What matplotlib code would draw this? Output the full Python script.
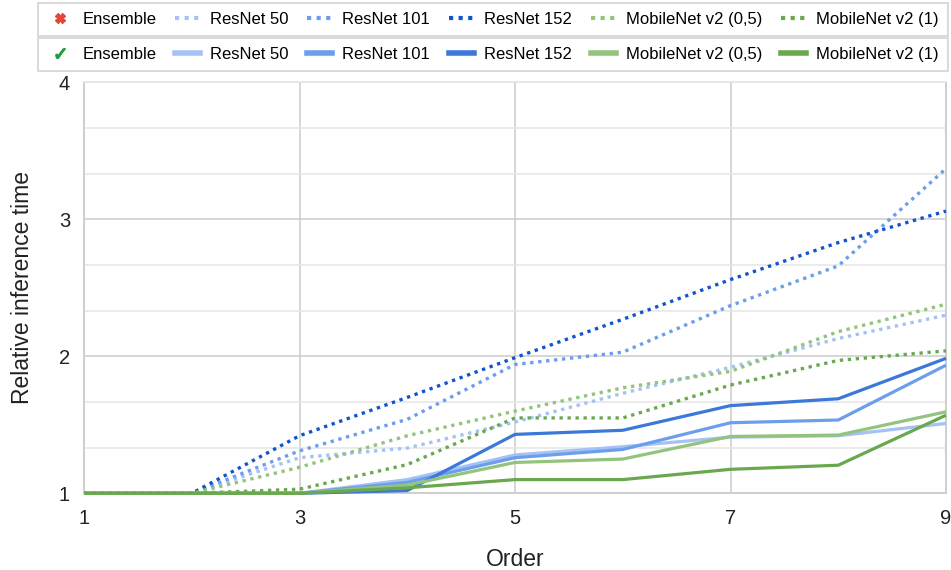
import matplotlib
matplotlib.use('Agg')
from matplotlib import pyplot as plt
from matplotlib.lines import Line2D
from matplotlib.ticker import MultipleLocator

plt.rcParams['font.family'] = ['Liberation Sans', 'DejaVu Sans']

orders = [1, 2, 3, 4, 5, 6, 7, 8, 9]
names = ['ResNet 50', 'ResNet 101', 'ResNet 152', 'MobileNet v2 (0,5)', 'MobileNet v2 (1)']

# пунктир: первая строка легенды (крестик)
dotted_vals = [
    [1, 1, 1.26, 1.33, 1.52, 1.73, 1.92, 2.13, 2.30],
    [1, 1, 1.31, 1.54, 1.94, 2.03, 2.37, 2.66, 3.37],
    [1, 1, 1.42, 1.70, 1.99, 2.27, 2.56, 2.83, 3.06],
    [1, 1, 1.19, 1.42, 1.60, 1.77, 1.89, 2.18, 2.38],
    [1, 1, 1.03, 1.21, 1.55, 1.55, 1.79, 1.97, 2.04],
]
# сплошные: вторая строка легенды (галочка)
solid_vals = [
    [1, 1, 1, 1.10, 1.28, 1.34, 1.41, 1.42, 1.51],
    [1, 1, 1, 1.08, 1.26, 1.32, 1.515, 1.535, 1.935],
    [1, 1, 1, 1.02, 1.43, 1.46, 1.64, 1.69, 1.985],
    [1, 1, 1, 1.06, 1.225, 1.25, 1.415, 1.425, 1.595],
    [1, 1, 1, 1.04, 1.10, 1.10, 1.175, 1.205, 1.57],
]
x_ticks = [1, 3, 5, 7, 9]
dotted_colors = ['#a4c2f4', '#6d9eeb', '#1155cc', '#93c47d', '#6aa84f']
solid_colors = ['#a4c2f4', '#6d9eeb', '#3c78d8', '#93c47d', '#6aa84f']

fig = plt.figure(figsize=(9.51, 5.70), dpi=100)
ax = fig.add_axes([84 / 951, 1 - 493.3 / 570, 862 / 951, 411 / 570])

dot_style = (0, (1, 1.4))
for vals, c in zip(dotted_vals, dotted_colors):
    ax.plot(orders, vals, color=c, lw=2.4, linestyle=dot_style, clip_on=False, zorder=3)
for vals, c in zip(solid_vals, solid_colors):
    ax.plot(orders, vals, color=c, lw=2.3, solid_capstyle='butt', clip_on=False, zorder=4)

ax.set_xlim(1, 9)
ax.set_ylim(1, 4)
ax.set_xticks(x_ticks)
ax.yaxis.set_major_locator(MultipleLocator(1))
ax.yaxis.set_minor_locator(MultipleLocator(1 / 3))
ax.grid(True, which='major', color='#cccccc', lw=1.1, zorder=0)
ax.grid(True, which='minor', axis='y', color='#e6e6e6', lw=1.1, zorder=0)
ax.tick_params(which='both', length=0, labelsize=14.5, colors='#222222')
ax.tick_params(axis='x', pad=11)
ax.tick_params(axis='y', pad=10)
for s in ax.spines.values():
    s.set_color('#cccccc')
    s.set_linewidth(1.3)
ax.spines['top'].set_color('#e6e6e6')

ax.set_xlabel('Order', fontsize=16.5, labelpad=15, color='#222222')
ax.set_ylabel('Relative inference time', fontsize=16.5, labelpad=18, color='#222222')

# легенда в две строки
h1 = [Line2D([], [], color='#ea4335', marker='X', markersize=6.5, linestyle='none')]
h1 += [Line2D([], [], color=c, lw=3, linestyle=(0, (1, 1.3))) for c in dotted_colors]
h2 = [Line2D([], [], color='#1e9e3e', marker=r'$\checkmark$', markersize=7, linestyle='none')]
h2 += [Line2D([], [], color=c, lw=4) for c in solid_colors]

common = dict(ncol=6, fontsize=12, frameon=True, fancybox=False, handlelength=1.5,
              handletextpad=0.6, borderpad=0.55, borderaxespad=0, mode='expand', loc='lower left')
leg1 = fig.legend(h1, ['Ensemble'] + names, bbox_to_anchor=(38 / 951, 1 - 36 / 570, 910 / 951, 32 / 570), **common)
leg2 = fig.legend(h2, ['Ensemble'] + names, bbox_to_anchor=(38 / 951, 1 - 71 / 570, 910 / 951, 32 / 570), **common)
for leg in (leg1, leg2):
    leg.get_frame().set_edgecolor('#cccccc')
    leg.get_frame().set_linewidth(1.3)

fig.savefig('out.png', dpi=100)
